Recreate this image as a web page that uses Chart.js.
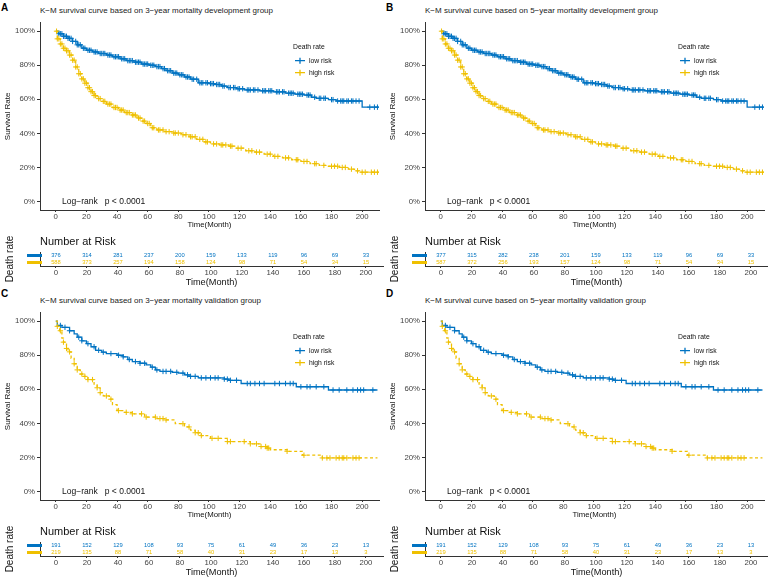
<!DOCTYPE html>
<html>
<head>
<meta charset="utf-8">
<script src="https://cdn.jsdelivr.net/npm/chart.js@4.4.1/dist/chart.umd.min.js"></script>
<style>
body { margin: 0; background: #fff; width: 768px; height: 578px; position: relative; overflow: hidden; font-family: "Liberation Sans", Arial, sans-serif; }
.panel { position: absolute; width: 384px; height: 289px; }
.tag { position: absolute; left: 1px; font-weight: bold; font-size: 10px; line-height: 10px; color: #000; }
.ttl { position: absolute; left: 40px; top: 6px; font-size: 8px; line-height: 10px; color: #222; white-space: nowrap; }
.km { position: absolute; left: 0; top: 16px; }
.risk { position: absolute; left: 0; top: 236px; }
</style>
</head>
<body>
<div id="root"></div>
<script>
// time axis
const xTicks = [0, 20, 40, 60, 80, 100, 120, 140, 160, 180, 200];
const yTicks = [0, 0.2, 0.4, 0.6, 0.8, 1];
const groups = ['low risk', 'high risk'];

// development cohort curves (time in months, survival fraction)
const devLowT = [0, 2, 5, 8, 11, 14, 17, 20, 24, 28, 33, 37, 42, 46, 51, 56, 61, 65, 69, 72, 76, 80, 84, 88, 93, 100, 104, 108, 112, 118, 123, 133, 142, 150, 156, 162, 167, 170, 178, 183, 200];
const devLowS = [1, .985, .97, .958, .94, .92, .9, .888, .878, .869, .86, .85, .838, .827, .818, .807, .8, .792, .78, .768, .754, .744, .731, .718, .697, .692, .687, .678, .669, .662, .655, .65, .644, .636, .63, .625, .612, .606, .598, .59, .554];
const devLowCens = [2, 3, 4, 5, 6, 7, 8, 9, 10, 11, 13, 14, 15, 16, 18, 19, 21, 22, 23, 25, 26, 27, 29, 30, 31, 32, 34, 35, 36, 38, 39, 40, 41, 43, 44, 45, 47, 48, 49, 50, 52, 53, 54, 55, 57, 58, 59, 60, 62, 63, 64, 66, 67, 68, 70, 71, 73, 74, 75, 77, 78, 79, 81, 82, 83, 85, 86, 87, 89, 90, 92, 94, 95, 96, 98, 99, 101, 102, 103, 105, 106, 107, 109, 110, 113, 114, 116, 117, 119, 120, 122, 125, 126, 127, 129, 130, 132, 135, 136, 137, 139, 140, 141, 144, 145, 146, 148, 149, 152, 153, 154, 155, 158, 159, 160, 161, 164, 165, 166, 169, 172, 173, 175, 176, 180, 181, 184, 186, 187, 188, 190, 191, 193, 194, 196, 198, 205, 208, 210];
const devHighT = [0, 1, 3, 5, 7, 9, 11, 13, 15, 17, 19, 21, 23, 25, 27, 30, 33, 37, 41, 45, 49, 53, 56, 59, 62, 66, 71, 76, 82, 87, 92, 97, 101, 107, 113, 118, 124, 130, 136, 142, 148, 154, 160, 166, 172, 178, 185, 191, 195, 198];
const devHighS = [1, .955, .925, .9, .885, .86, .83, .79, .75, .72, .695, .668, .645, .622, .604, .588, .572, .552, .537, .522, .508, .49, .472, .458, .433, .42, .41, .402, .392, .38, .365, .35, .338, .332, .325, .313, .298, .29, .278, .265, .256, .245, .235, .222, .212, .207, .2, .19, .18, .172];
const devHighCens = [0.5, 1, 2, 3, 4, 5, 6, 7, 8, 9, 10, 11, 12, 13, 14, 15, 16, 17, 18, 19, 20, 21, 22, 23, 24, 25, 26, 28, 29, 31, 32, 34, 35, 36, 38, 39, 40, 42, 43, 44, 46, 47, 48, 50, 51, 52, 54, 55, 57, 58, 60, 61, 63, 64, 67, 68, 70, 72, 74, 77, 78, 80, 83, 85, 88, 89, 91, 94, 96, 98, 99, 103, 105, 108, 109, 111, 114, 115, 119, 121, 126, 128, 131, 133, 138, 140, 143, 145, 150, 152, 157, 158, 162, 164, 169, 170, 175, 180, 182, 184, 187, 189, 193, 197, 200, 202, 206, 208, 210];

// validation cohort curves
const valLowT = [0, 1, 4, 9, 12, 14, 17, 20, 23, 26, 30, 33, 40, 44, 47, 50, 55, 59, 62, 65, 68, 76, 80, 84, 87, 93, 110, 113, 121, 157, 178];
const valLowS = [1, .975, .964, .944, .925, .906, .885, .868, .85, .829, .818, .81, .8, .791, .775, .763, .753, .743, .73, .714, .705, .7, .695, .685, .676, .667, .66, .653, .634, .615, .596];
const valLowCens = [3, 6, 9, 15, 17, 21, 25, 28, 31, 36, 41, 44, 48, 52, 55, 58, 63, 66, 70, 72, 75, 79, 83, 86, 88, 91, 95, 98, 101, 104, 106, 110, 112, 114, 118, 125, 127, 130, 133, 136, 143, 146, 150, 153, 155, 160, 164, 166, 170, 175, 181, 185, 190, 194, 197, 199, 201, 207];
const valHighT = [0, 1, 2.5, 4, 5, 7, 8, 10, 12, 14, 16, 18, 21, 25, 27, 29, 31, 35, 37, 40, 45, 50, 58, 66, 72, 78, 84, 88, 91, 95, 101, 112, 127, 134, 138, 140, 151, 161, 174];
const valHighS = [1, .97, .944, .9, .877, .84, .82, .782, .75, .714, .69, .676, .657, .63, .609, .58, .561, .542, .51, .475, .465, .456, .437, .428, .42, .398, .379, .36, .345, .328, .312, .293, .28, .264, .255, .245, .236, .213, .197];
const valHighCens = [1, 3, 5, 7, 9, 12, 14, 17, 19, 21, 24, 27, 29, 33, 36, 41, 46, 50, 56, 59, 65, 68, 70, 72, 83, 87, 91, 93, 95, 102, 106, 112, 114, 123, 127, 131, 134, 137, 138, 139, 151, 162, 174, 177, 179, 183, 185, 187, 188, 190, 194, 196, 198];

// numbers at risk at each x tick
const riskA_low = [376, 314, 281, 237, 200, 159, 133, 119, 96, 69, 33];
const riskA_high = [588, 373, 257, 194, 158, 124, 98, 71, 54, 34, 15];
const riskB_low = [377, 315, 282, 238, 201, 159, 133, 119, 96, 69, 33];
const riskB_high = [587, 372, 256, 193, 157, 124, 98, 71, 54, 34, 15];
const riskC_low = [191, 152, 129, 108, 93, 75, 61, 49, 36, 23, 13];
const riskC_high = [219, 135, 88, 71, 58, 40, 31, 23, 17, 13, 3];
const riskD_low = [191, 152, 129, 108, 93, 75, 61, 49, 36, 23, 13];
const riskD_high = [219, 135, 88, 71, 58, 40, 31, 23, 17, 13, 3];

const BLUE = '#0073C2';
const YELLOW = '#EFC000';
const FONT = '"Liberation Sans", Arial, sans-serif';

const panels = [
    { tag: 'A', title: 'K−M survival curve based on 3−year mortality development group', left: 0, top: 0, tagTop: 3,
      lowT: devLowT, lowS: devLowS, lowC: devLowCens, highT: devHighT, highS: devHighS, highC: devHighCens, end: 211,
      riskLow: riskA_low, riskHigh: riskA_high },
    { tag: 'B', title: 'K−M survival curve based on 5−year mortality development group', left: 385, top: 0, tagTop: 3,
      lowT: devLowT, lowS: devLowS, lowC: devLowCens, highT: devHighT, highS: devHighS, highC: devHighCens, end: 211,
      riskLow: riskB_low, riskHigh: riskB_high },
    { tag: 'C', title: 'K−M survival curve based on 3−year mortality validation group', left: 0, top: 290, tagTop: -1,
      lowT: valLowT, lowS: valLowS, lowC: valLowCens, highT: valHighT, highS: valHighS, highC: valHighCens, end: 210,
      riskLow: riskC_low, riskHigh: riskC_high },
    { tag: 'D', title: 'K−M survival curve based on 5−year mortality validation group', left: 385, top: 290, tagTop: -1,
      lowT: valLowT, lowS: valLowS, lowC: valLowCens, highT: valHighT, highS: valHighS, highC: valHighCens, end: 210,
      riskLow: riskD_low, riskHigh: riskD_high }
];

function stepPts(times, surv, end) {
    const pts = times.map((t, i) => ({ x: t, y: surv[i] }));
    pts.push({ x: end, y: surv[surv.length - 1] });
    return pts;
}

// censor marks sit on the curve at their time
function censPts(times, surv, cens) {
    return cens.map(c => {
        let s = surv[0];
        for (let i = 0; i < times.length; i++) {
            if (times[i] <= c) s = surv[i];
        }
        return { x: c, y: s };
    });
}

function xScale(titleSize, height) {
    return {
        type: 'linear',
        min: -10.3,
        max: 211,
        afterBuildTicks: s => { s.ticks = xTicks.map(v => ({ value: v })); },
        afterFit: s => { s.height = height; },
        ticks: { font: { family: FONT, size: 7.8 }, color: '#444', padding: 0, maxRotation: 0, autoSkip: false },
        grid: { drawOnChartArea: false, drawTicks: true, tickLength: 2, color: '#333' },
        border: { display: true, color: '#333', width: 1 },
        title: { display: true, text: 'Time(Month)', font: { family: FONT, size: titleSize }, color: '#111', padding: 0 }
    };
}

const kmText = {
    id: 'kmText',
    afterDraw(chart) {
        const { ctx, chartArea: a, scales: { y } } = chart;
        ctx.save();
        ctx.fillStyle = '#111';
        ctx.textBaseline = 'middle';
        ctx.font = '8.5px ' + FONT;
        ctx.fillText('Log−rank   p < 0.0001', a.left + 22, y.getPixelForValue(0));

        // legend
        const lx = a.left + 253, ly = a.top + 24;
        ctx.font = '6.8px ' + FONT;
        ctx.fillText('Death rate', lx, ly);
        [BLUE, YELLOW].forEach((c, i) => {
            const yy = ly + 14 + i * 12;
            ctx.strokeStyle = c;
            ctx.lineWidth = 1.3;
            ctx.beginPath();
            ctx.moveTo(lx + 2, yy); ctx.lineTo(lx + 12, yy);
            ctx.moveTo(lx + 7, yy - 3); ctx.lineTo(lx + 7, yy + 3);
            ctx.stroke();
            ctx.fillStyle = '#111';
            ctx.fillText(groups[i], lx + 16, yy);
        });
        ctx.restore();
    }
};

const riskText = {
    id: 'riskText',
    afterDraw(chart) {
        const { ctx, chartArea: a, scales: { y } } = chart;
        ctx.save();
        ctx.fillStyle = '#111';
        ctx.textBaseline = 'middle';
        ctx.font = '11px ' + FONT;
        ctx.fillText('Number at Risk', a.left, a.top - 10);

        ctx.font = '5.8px ' + FONT;
        ctx.textAlign = 'center';
        chart.data.datasets.forEach((ds, i) => {
            const meta = chart.getDatasetMeta(i);
            ctx.fillStyle = ds.borderColor;
            meta.data.forEach((pt, j) => {
                ctx.fillText(String(ds.data[j].n), pt.x, pt.y);
            });
            // coloured strip in place of the group label
            const yy = y.getPixelForValue(i);
            ctx.strokeStyle = ds.borderColor;
            ctx.lineWidth = 3;
            ctx.beginPath();
            ctx.moveTo(27, yy); ctx.lineTo(42, yy);
            ctx.stroke();
        });
        ctx.restore();
    }
};

const root = document.getElementById('root');

panels.forEach(p => {
    const div = document.createElement('div');
    div.className = 'panel';
    div.style.left = p.left + 'px';
    div.style.top = p.top + 'px';
    div.innerHTML = '<div class="tag" style="top:' + p.tagTop + 'px">' + p.tag + '</div>' +
        '<div class="ttl">' + p.title + '</div>' +
        '<canvas class="km" width="384" height="214"></canvas>' +
        '<canvas class="risk" width="384" height="52"></canvas>';
    root.appendChild(div);

    const kmCanvas = div.querySelector('.km');
    const riskCanvas = div.querySelector('.risk');

    new Chart(kmCanvas, {
        type: 'line',
        data: {
            datasets: [{
                label: 'high risk',
                data: stepPts(p.highT, p.highS, p.end),
                borderColor: YELLOW,
                borderWidth: 1.3,
                borderDash: [3, 2.5],
                stepped: 'before',
                pointRadius: 0,
                fill: false
            }, {
                label: 'high risk censored',
                data: censPts(p.highT, p.highS, p.highC),
                showLine: false,
                pointStyle: 'cross',
                pointRadius: 2.7,
                borderColor: YELLOW,
                borderWidth: 1
            }, {
                label: 'low risk',
                data: stepPts(p.lowT, p.lowS, p.end),
                borderColor: BLUE,
                borderWidth: 1.3,
                stepped: 'before',
                pointRadius: 0,
                fill: false
            }, {
                label: 'low risk censored',
                data: censPts(p.lowT, p.lowS, p.lowC),
                showLine: false,
                pointStyle: 'cross',
                pointRadius: 2.7,
                borderColor: BLUE,
                borderWidth: 1
            }]
        },
        options: {
            responsive: false,
            animation: false,
            layout: { padding: { top: 2, right: 1, left: 0, bottom: 0 } },
            plugins: { legend: { display: false }, tooltip: { enabled: false } },
            scales: {
                x: xScale(7.8, 20),
                y: {
                    type: 'linear',
                    min: -0.05,
                    max: 1.05,
                    afterBuildTicks: s => { s.ticks = yTicks.map(v => ({ value: v })); },
                    afterFit: s => { s.width = 40; },
                    ticks: {
                        font: { family: FONT, size: 7.8 }, color: '#444', padding: 2,
                        callback: v => Math.round(v * 100) + '%'
                    },
                    grid: { drawOnChartArea: false, drawTicks: true, tickLength: 3, color: '#333' },
                    border: { display: true, color: '#333', width: 1 },
                    title: { display: true, text: 'Survival Rate', font: { family: FONT, size: 8 }, color: '#111', padding: { top: 3, bottom: 0 } }
                }
            }
        },
        plugins: [kmText]
    });

    new Chart(riskCanvas, {
        type: 'line',
        data: {
            datasets: [{
                label: 'low risk',
                data: xTicks.map((t, j) => ({ x: t, y: 'low risk', n: p.riskLow[j] })),
                borderColor: BLUE,
                showLine: false,
                pointRadius: 0
            }, {
                label: 'high risk',
                data: xTicks.map((t, j) => ({ x: t, y: 'high risk', n: p.riskHigh[j] })),
                borderColor: YELLOW,
                showLine: false,
                pointRadius: 0
            }]
        },
        options: {
            responsive: false,
            animation: false,
            layout: { padding: { top: 16, right: 1, left: 0, bottom: 0 } },
            plugins: { legend: { display: false }, tooltip: { enabled: false } },
            scales: {
                x: xScale(9.2, 22),
                y: {
                    type: 'category',
                    labels: groups,
                    offset: true,
                    afterFit: s => { s.width = 40; },
                    ticks: { display: false },
                    grid: { drawOnChartArea: false, drawTicks: true, tickLength: 3, color: '#333', offset: false },
                    border: { display: true, color: '#333', width: 1 },
                    title: { display: true, text: 'Death rate', font: { family: FONT, size: 10 }, color: '#111', padding: { top: 4, bottom: 0 } }
                }
            }
        },
        plugins: [riskText]
    });
});
</script>
</body>
</html>
